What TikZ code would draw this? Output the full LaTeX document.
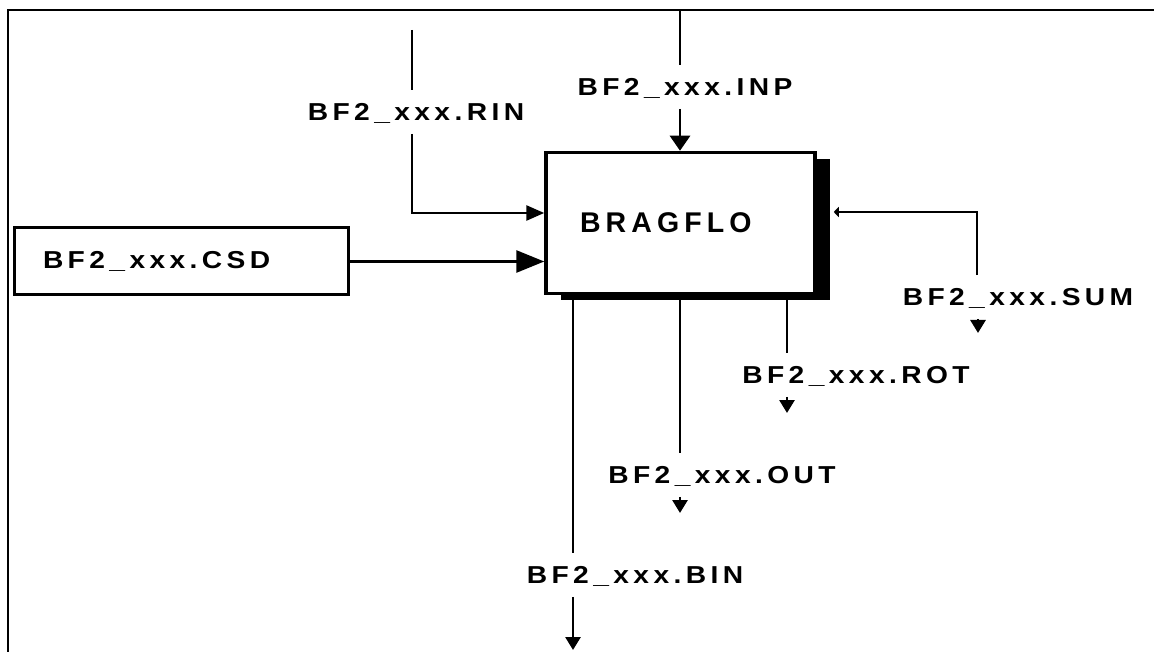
\documentclass[tikz,border=0pt]{standalone}
\usepackage{fontspec}
\setmainfont{Liberation Sans}
\newfontfamily\lblfont{Liberation Sans Bold}[LetterSpace=18, FakeStretch=1.15]
\newfontfamily\boxfont{Liberation Sans Bold}[LetterSpace=18]
\usetikzlibrary{arrows.meta, shadows, positioning}

\begin{document}
\begin{tikzpicture}[x=1pt, y=-1pt, line width=2.8pt,
    lblfont/.style={font=\lblfont\fontsize{24.5}{27}\selectfont},
    lbl/.style={lblfont, text height=17pt, text depth=0pt, inner xsep=2pt, inner ysep=12pt},
    mainbox/.style={draw, line width=3.5pt, fill=white, minimum width=269pt, minimum height=141pt,
                    text width=201pt, inner xsep=34pt, align=left,
                    font=\boxfont\fontsize{28.5}{30}\selectfont,
                    drop shadow={shadow xshift=15pt, shadow yshift=-7pt, fill=black, opacity=1}},
    filebox/.style={draw, line width=3pt, lblfont, minimum width=334pt, minimum height=67pt,
                    text width=276pt, inner xsep=29pt, align=left},
    arr/.style={-{Triangle[length=15pt, width=20pt]}},
    sidearr/.style={-{Triangle[length=18pt, width=15pt]}},
    bigarr/.style={-{Triangle[length=28pt, width=22pt]}},
    smallarr/.style={-{Triangle[length=13pt, width=15pt]}},
    tinyarr/.style={-{Triangle[length=5pt, width=10pt]}}]
  \useasboundingbox (0,0) rectangle (1154,652);

  % frame
  \draw[line width=2pt] (1154,10) -- (8,10) -- (8,652);

  \path (680, 10) node[coordinate] (inptop) {}
        (412, 30) node[coordinate] (rintop) {}
        (977,212) node[coordinate] (sumbend) {}
        (978,333) node[coordinate] (sumend) {}
        (787,413) node[coordinate] (rotend) {}
        (680,513) node[coordinate] (outend) {}
        (573,650) node[coordinate] (binend) {};

  \node[mainbox] (bragflo) at (680.5,223) {BRAGFLO};
  \node[filebox] (csd) at (181,261.5) {BF2\_xxx.CSD};

  \node[lbl] (inp) at ( 685, 87) {BF2\_xxx.INP};
  \node[lbl] (rin) at ( 416,112) {BF2\_xxx.RIN};
  \node[lbl] (sum) at (1018,297) {BF2\_xxx.SUM};
  \node[lbl] (rot) at ( 856,375) {BF2\_xxx.ROT};
  \node[lbl] (out) at ( 722,475) {BF2\_xxx.OUT};
  \node[lbl] (bin) at ( 635,575) {BF2\_xxx.BIN};

  % inputs
  \draw (inptop) -- (inp.north -| inptop);
  \draw[arr] (inp.south -| inptop) -- (bragflo.north -| inptop);
  \draw (rintop) -- (rin.north -| rintop);
  \draw[sidearr] (rin.south -| rintop) |- ([yshift=10pt]bragflo.west);
  \draw[bigarr] (csd.east) -- (bragflo.west |- csd.east);

  % outputs
  \draw[tinyarr] (sum.north -| sumbend) -- (sumbend) -- ([xshift=17pt]bragflo.east |- sumbend);
  \draw[smallarr] (sum.south -| sumend) -- (sumend);
  \foreach \lab/\pt in {rot/rotend, out/outend, bin/binend}
  {
    \draw (bragflo.south -| \pt) -- (\lab.north -| \pt);
    \draw[smallarr] (\lab.south -| \pt) -- (\pt);
  }
\end{tikzpicture}
\end{document}
